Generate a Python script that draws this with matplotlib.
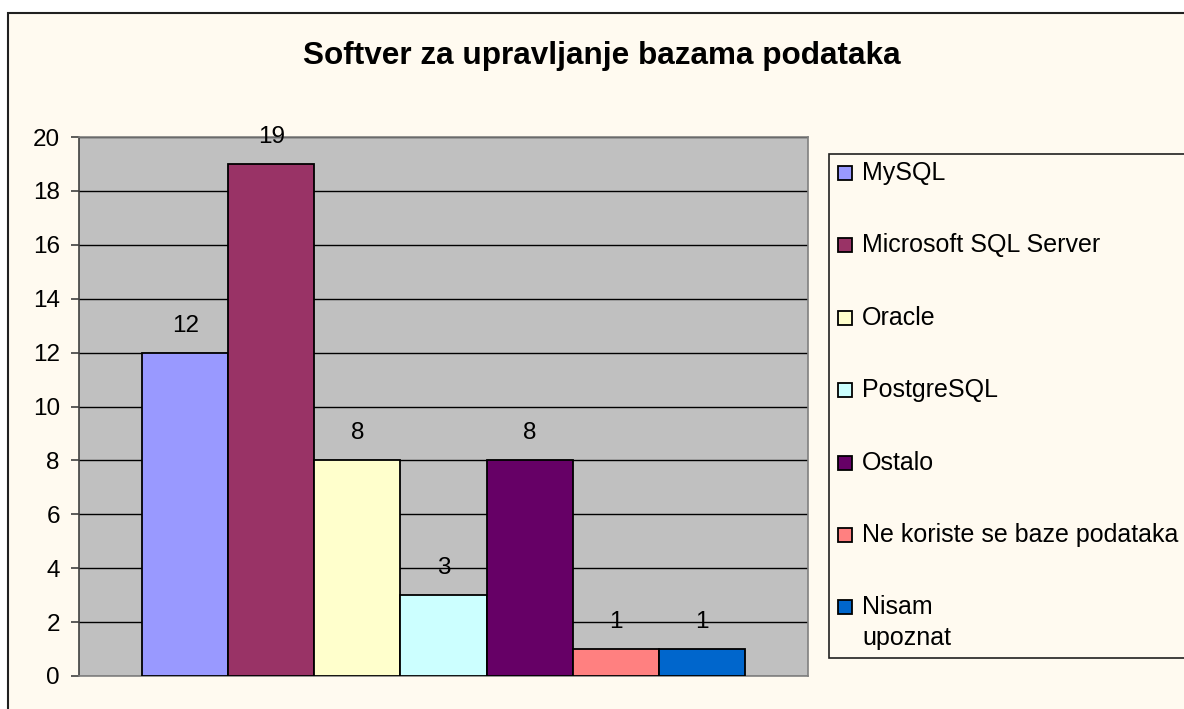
import matplotlib
matplotlib.use("Agg")
import matplotlib.pyplot as plt
from matplotlib.patches import Rectangle

plt.rcParams['font.family'] = ['Liberation Sans', 'DejaVu Sans']

title = "Softver za upravljanje bazama podataka"
categories = ["MySQL", "Microsoft SQL Server", "Oracle", "PostgreSQL",
              "Ostalo", "Ne koriste se baze podataka", "Nisam\nupoznat"]
values = [12, 19, 8, 3, 8, 1, 1]
colors = ["#9999FF", "#993366", "#FFFFCC", "#CCFFFF", "#660066", "#FF8080", "#0066CC"]
yticks = [0, 2, 4, 6, 8, 10, 12, 14, 16, 18, 20]

W, H = 1184, 709
fig = plt.figure(figsize=(W / 100, H / 100), dpi=100, facecolor="white")

# outer chart area (border goes past right/bottom edge)
fig.patches.append(Rectangle((8 / W, -10 / H), 1.2, (H - 13 + 10) / H,
                             transform=fig.transFigure, facecolor="#FFFAF0",
                             edgecolor="#202020", linewidth=1.5, zorder=-5))

ax = fig.add_axes([79 / W, (H - 676) / H, 729 / W, 539 / H])
ax.set_zorder(2)
ax.set_facecolor("#C0C0C0")
for side in ["top", "right", "bottom"]:
    ax.spines[side].set_color("#808080")
    ax.spines[side].set_linewidth(1.2)
ax.spines["left"].set_color("#404040")
ax.spines["left"].set_linewidth(1.2)

n = len(values)
bw = 0.118
for i, (cat, v, c) in enumerate(zip(categories, values, colors)):
    x = (i - (n - 1) / 2) * bw
    ax.bar(x, v, width=bw, color=c, edgecolor="black", linewidth=1.3,
           label=cat, zorder=3)
    ax.text(x, v + 1.0, str(v), ha="center", va="center", fontsize=17.5,
            color="black", zorder=4)

ax.set_xlim(-0.5, 0.5)
ax.set_ylim(0, 20)
ax.set_yticks(yticks)
ax.set_yticklabels([str(t) for t in yticks], fontsize=17.5)
ax.set_xticks([])
ax.tick_params(axis="y", length=5.8, width=1.2, color="#404040", pad=8)
ax.yaxis.grid(True, color="black", linewidth=1.0, zorder=1)
ax.set_axisbelow(True)

fig.text(602 / W, 1 - 56 / H, title, ha="center", va="center",
         fontsize=22.7, fontweight="bold")

# legend frame (runs past the right edge)
fig.patches.append(Rectangle((829 / W, (H - 658) / H), 0.5, (658 - 154) / H,
                             transform=fig.transFigure, facecolor="#FFFAF0",
                             edgecolor="#202020", linewidth=1.2, zorder=1))
row_y = [173, 245, 318, 390, 463, 535, 607]
for cat, c, yy in zip(categories, colors, row_y):
    fig.patches.append(Rectangle((838 / W, (H - yy - 7) / H), 14 / W, 14 / H,
                                 transform=fig.transFigure, facecolor=c,
                                 edgecolor="black", linewidth=1.3, zorder=2))
    fig.text(862 / W, (H - yy) / H, cat.split("\n")[0], ha="left", va="center",
             fontsize=18, zorder=3)
    for k, extra in enumerate(cat.split("\n")[1:], start=1):
        fig.text(862 / W, (H - yy - 31 * k) / H, extra, ha="left", va="center",
                 fontsize=18, zorder=3)

fig.savefig("out.png", dpi=100, facecolor="white")
